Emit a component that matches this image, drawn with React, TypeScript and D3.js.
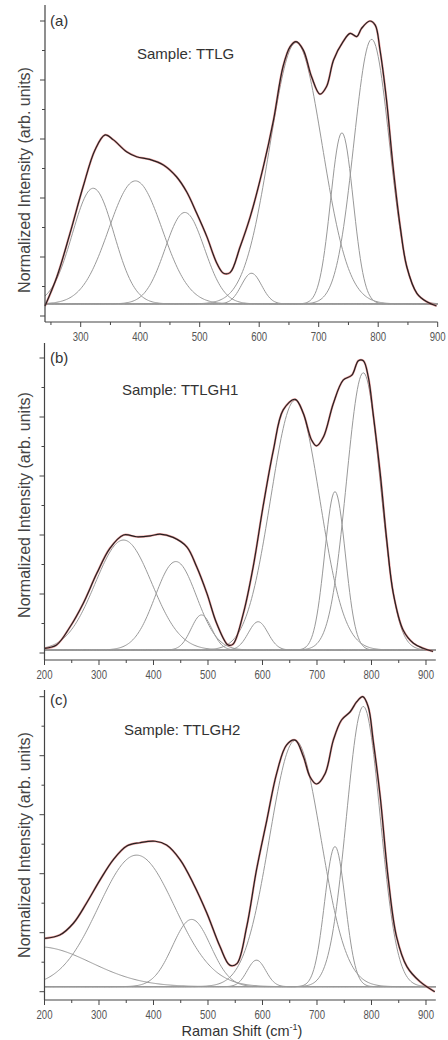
import React from 'react';
import * as d3 from 'd3';

// ---------- Data ----------
// Panel (a) Sample: TTLG - measured spectrum
const ramanA = [240, 260, 282, 304, 324, 341, 355, 377, 394, 416, 439, 461, 478, 495, 512, 529, 540, 551, 568, 585, 607, 624, 640, 652, 662, 674, 688, 702, 713, 725, 741, 753, 764, 772, 786, 795, 803, 814, 825, 837, 848, 865, 881, 898];
const intensityA = [0.034, 0.133, 0.28, 0.438, 0.563, 0.614, 0.597, 0.557, 0.54, 0.531, 0.512, 0.472, 0.421, 0.348, 0.269, 0.178, 0.145, 0.147, 0.235, 0.337, 0.506, 0.664, 0.845, 0.913, 0.93, 0.902, 0.811, 0.752, 0.777, 0.868, 0.93, 0.958, 0.947, 0.975, 1.0, 0.986, 0.902, 0.732, 0.506, 0.303, 0.167, 0.077, 0.049, 0.034];
// fitted peak components (center, height above baseline, gaussian width)
const peakCentersA = [321, 392, 475, 587, 662, 739, 789];
const peakHeightsA = [0.392, 0.417, 0.31, 0.104, 0.886, 0.58, 0.897];
const peakWidthsA = [35, 45, 33, 17, 44, 19, 30];
const baselineA = 0.041;

// Panel (b) Sample: TTLGH1
const ramanB = [201, 222, 247, 271, 296, 320, 345, 369, 394, 412, 436, 461, 479, 498, 516, 537, 546, 565, 583, 601, 620, 638, 660, 675, 690, 699, 712, 730, 748, 764, 776, 785, 794, 803, 816, 828, 840, 858, 877, 895, 913];
const intensityB = [0.016, 0.027, 0.089, 0.168, 0.27, 0.355, 0.4, 0.394, 0.397, 0.403, 0.392, 0.36, 0.293, 0.202, 0.1, 0.027, 0.03, 0.135, 0.293, 0.496, 0.688, 0.824, 0.86, 0.812, 0.722, 0.702, 0.733, 0.846, 0.925, 0.942, 0.991, 0.991, 0.937, 0.812, 0.609, 0.383, 0.202, 0.078, 0.033, 0.016, 0.005];
const peakCentersB = [345, 441, 488, 592, 660, 733, 785];
const peakHeightsB = [0.373, 0.3, 0.119, 0.096, 0.847, 0.537, 0.94];
const peakWidthsB = [52, 38, 19, 18, 45, 19, 31];
const baselineB = 0.01;

// Panel (c) Sample: TTLGH2
const ramanC = [201, 228, 253, 277, 302, 326, 351, 375, 403, 424, 449, 473, 498, 522, 540, 553, 571, 589, 608, 626, 644, 660, 675, 687, 699, 715, 730, 745, 761, 773, 784, 794, 803, 816, 831, 846, 865, 889, 916];
const intensityC = [0.181, 0.192, 0.232, 0.3, 0.379, 0.447, 0.494, 0.505, 0.51, 0.497, 0.447, 0.367, 0.266, 0.153, 0.09, 0.095, 0.22, 0.413, 0.582, 0.74, 0.836, 0.853, 0.797, 0.729, 0.704, 0.74, 0.853, 0.921, 0.949, 0.983, 1.0, 0.966, 0.853, 0.661, 0.379, 0.186, 0.085, 0.034, 0.0];
const peakCentersC = [190, 369, 470, 589, 660, 733, 785];
const peakHeightsC = [0.135, 0.446, 0.228, 0.09, 0.835, 0.475, 0.95];
const peakWidthsC = [95, 70, 35, 17, 47, 19, 31];
const baselineC = 0.017;

const xTicksA = [300, 400, 500, 600, 700, 800, 900];
const xMinorA = [250, 350, 450, 550, 650, 750, 850];
const xTicksBC = [200, 300, 400, 500, 600, 700, 800, 900];
const xMinorBC = [250, 350, 450, 550, 650, 750, 850];
const yTickValues = [0, 0.1, 0.2, 0.3, 0.4, 0.5, 0.6, 0.7, 0.8, 0.9, 1.0];

const panelLetters = ['(a)', '(b)', '(c)'];
const sampleNames = ['Sample: TTLG', 'Sample: TTLGH1', 'Sample: TTLGH2'];
const yTitle = 'Normalized Intensity (arb. units)';

// ---------- Layout ----------
const W = 448;
const H = 1040;
const FONT = 'Liberation Sans, Arial, Helvetica, sans-serif';

type Layout = {
  xDomain: [number, number];
  xRange: [number, number];
  y0: number; // pixel of value 0
  y1: number; // pixel of value 1
  axisTop: number;
  axisY: number;
  letterY: number;
  sampleX: number;
  sampleY: number;
  titleCY: number;
};

const layouts: Layout[] = [
  { xDomain: [240, 900], xRange: [45, 437.7], y0: 316, y1: 21, axisTop: 5, axisY: 322, letterY: 26, sampleX: 137, sampleY: 59, titleCY: 180 },
  { xDomain: [200, 918], xRange: [44.5, 435.8], y0: 653, y1: 358, axisTop: 343, axisY: 660, letterY: 363, sampleX: 122, sampleY: 395, titleCY: 505 },
  { xDomain: [200, 918], xRange: [44.5, 435.8], y0: 991.7, y1: 696.7, axisTop: 690, axisY: 1000, letterY: 705, sampleX: 124, sampleY: 735, titleCY: 845 },
];

type PanelData = {
  raman: number[];
  intensity: number[];
  centers: number[];
  heights: number[];
  widths: number[];
  baseline: number;
  ticks: number[];
  minor: number[];
};

const panels: PanelData[] = [
  { raman: ramanA, intensity: intensityA, centers: peakCentersA, heights: peakHeightsA, widths: peakWidthsA, baseline: baselineA, ticks: xTicksA, minor: xMinorA },
  { raman: ramanB, intensity: intensityB, centers: peakCentersB, heights: peakHeightsB, widths: peakWidthsB, baseline: baselineB, ticks: xTicksBC, minor: xMinorBC },
  { raman: ramanC, intensity: intensityC, centers: peakCentersC, heights: peakHeightsC, widths: peakWidthsC, baseline: baselineC, ticks: xTicksBC, minor: xMinorBC },
];

function Panel({ d, L, i }: { d: PanelData; L: Layout; i: number }) {
  const x = d3.scaleLinear().domain(L.xDomain).range(L.xRange);
  const y = d3.scaleLinear().domain([0, 1]).range([L.y0, L.y1]);
  const x0 = L.xRange[0];
  const x1 = L.xRange[1];

  const pts: [number, number][] = d.raman.map((r, k) => [r, d.intensity[k]]);
  const line = d3
    .line<[number, number]>()
    .x((p) => x(p[0]))
    .y((p) => y(p[1]))
    .curve(d3.curveCatmullRom.alpha(0.5));

  const grid = d3.range(L.xDomain[0], L.xDomain[1] + 0.001, 2);
  const comps = d.centers.map((c, k) => {
    const h = d.heights[k];
    const s = d.widths[k];
    const cp: [number, number][] = grid.map((v) => [v, d.baseline + h * Math.exp(-((v - c) * (v - c)) / (2 * s * s))]);
    const l2 = d3
      .line<[number, number]>()
      .x((p) => x(p[0]))
      .y((p) => y(p[1]));
    return l2(cp) || '';
  });

  const tickColor = '#444';
  return (
    <g>
      {/* baseline */}
      <line x1={x0} x2={x1} y1={y(d.baseline)} y2={y(d.baseline)} stroke="#999" strokeWidth={1} />
      {comps.map((p, k) => (
        <path key={k} d={p} fill="none" stroke="#999" strokeWidth={1} />
      ))}
      {/* fit (red) */}
      <path d={line(pts) || ''} fill="none" stroke="#e05555" strokeWidth={2.2} strokeOpacity={0.6} />
      {/* measured (black) */}
      <path d={line(pts) || ''} fill="none" stroke="#222" strokeWidth={1.2} />

      {/* axes */}
      <line x1={x0} x2={x0} y1={L.axisTop} y2={L.axisY} stroke={tickColor} strokeWidth={1.2} />
      <line x1={x0} x2={x1} y1={L.axisY} y2={L.axisY} stroke={tickColor} strokeWidth={1.2} />
      {yTickValues.map((v, k) => (
        <line key={'yt' + k} x1={x0 - (k % 2 === 0 ? 5 : 3)} x2={x0} y1={y(v)} y2={y(v)} stroke={tickColor} strokeWidth={1} />
      ))}
      {d.ticks.map((t) => (
        <g key={'xt' + t}>
          <line x1={x(t)} x2={x(t)} y1={L.axisY} y2={L.axisY + 5} stroke={tickColor} strokeWidth={1} />
          <text
            transform={`translate(${x(t)},${L.axisY + 19}) scale(0.8,1)`}
            textAnchor="middle"
            fontFamily={FONT}
            fontSize={12}
            fill="#555"
          >
            {t}
          </text>
        </g>
      ))}
      {d.minor.map((t) => (
        <line key={'xm' + t} x1={x(t)} x2={x(t)} y1={L.axisY} y2={L.axisY + 3} stroke={tickColor} strokeWidth={1} />
      ))}

      {/* labels */}
      <text x={50} y={L.letterY} fontFamily={FONT} fontSize={15} fill="#333">
        {panelLetters[i]}
      </text>
      <text x={L.sampleX} y={L.sampleY} fontFamily={FONT} fontSize={15} fill="#333">
        {sampleNames[i]}
      </text>
      <text
        transform={`translate(29.5,${L.titleCY}) rotate(-90)`}
        textAnchor="middle"
        fontFamily={FONT}
        fontSize={16}
        fill="#444"
      >
        {yTitle}
      </text>
    </g>
  );
}

export default function App() {
  return (
    <svg
      width={W}
      height={H}
      viewBox={`0 0 ${W} ${H}`}
      style={{ position: 'absolute', left: 0, top: 0, background: '#fff' }}
    >
      <rect x={0} y={0} width={W} height={H} fill="#fff" />
      {panels.map((d, i) => (
        <Panel key={i} d={d} L={layouts[i]} i={i} />
      ))}
      <text x={242} y={1036} textAnchor="middle" fontFamily={FONT} fontSize={14.5} fill="#333">
        Raman Shift (cm
        <tspan dy={-6} fontSize={9}>-1</tspan>
        <tspan dy={6}>)</tspan>
      </text>
    </svg>
  );
}
